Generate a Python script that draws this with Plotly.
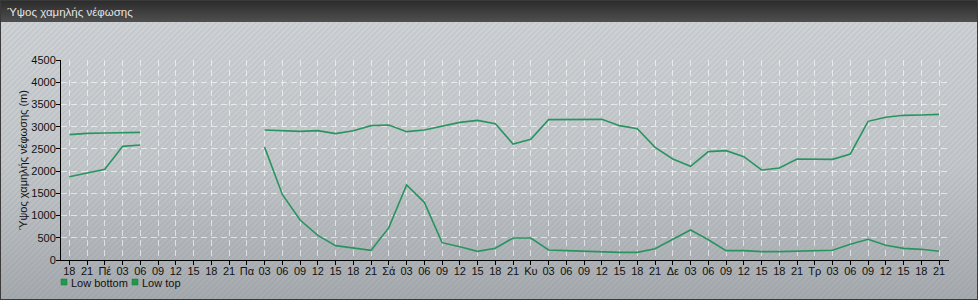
import base64
import plotly.graph_objects as go

TITLE = "Ύψος χαμηλής νέφωσης"
Y_TITLE = "Ύψος χαμηλής νέφωσης (m)"
SERIES_NAMES = ["Low bottom", "Low top"]

TICK_LABELS = ["18", "21",
               "Πέ", "03", "06", "09", "12", "15", "18", "21",
               "Πα", "03", "06", "09", "12", "15", "18", "21",
               "Σά", "03", "06", "09", "12", "15", "18", "21",
               "Κυ", "03", "06", "09", "12", "15", "18", "21",
               "Δε", "03", "06", "09", "12", "15", "18", "21",
               "Τρ", "03", "06", "09", "12", "15", "18", "21"]

LOW_BOTTOM = [1875, 1965, 2040, 2557, 2587,
              None, None, None, None, None, None,
              2540, 1475, 900, 555, 323, 278, 218,
              728, 1688, 1298, 390, 300, 195, 263, 495,
              495, 225, 210, 195, 180, 172, 172, 255,
              465, 675, 455, 210, 210, 188, 188, 195,
              195, 218, 353, 465, 330, 262, 240, 195]

LOW_TOP = [2820, 2850, 2858, 2865, 2872,
           None, None, None, None, None, None,
           2925, 2917, 2895, 2910, 2843, 2910, 3023,
           3038, 2888, 2925, 3007, 3097, 3142, 3068, 2610,
           2715, 3158, 3165, 3172, 3165, 3023, 2955, 2535,
           2272, 2108, 2438, 2460, 2325, 2025, 2070, 2272,
           2272, 2265, 2385, 3120, 3210, 3255, 3262, 3277]

Y_TICKS = [0, 500, 1000, 1500, 2000, 2500, 3000, 3500, 4000, 4500]

X = list(range(len(TICK_LABELS)))

W, H = 978, 300
L, R, T, B = 61, 949, 60, 260
PW, PH = R - L, B - T

LINE_COLOR = "#2a9461"
LEGEND_COLOR = "#1e9a4c"
FONT = "Liberation Sans, Arial, sans-serif"

svg = f"""<svg xmlns='http://www.w3.org/2000/svg' width='{W}' height='{H}'>
<defs>
<linearGradient id='bg' x1='0' y1='0' x2='0' y2='1'>
<stop offset='0' stop-color='#d1d4d7'/><stop offset='0.55' stop-color='#c4c8cb'/><stop offset='1' stop-color='#a6aaae'/>
</linearGradient>
<pattern id='p' width='4' height='4' patternUnits='userSpaceOnUse' patternTransform='rotate(45)'>
<rect width='1.4' height='4' fill='rgba(90,105,125,0.12)'/>
</pattern>
<linearGradient id='tb' x1='0' y1='0' x2='0' y2='1'>
<stop offset='0' stop-color='#2a2a2a'/><stop offset='1' stop-color='#4f4f4f'/>
</linearGradient>
</defs>
<rect width='{W}' height='{H}' fill='url(#bg)'/>
<rect width='{W}' height='{H}' fill='url(#p)'/>
<rect width='{W}' height='22' fill='url(#tb)'/>
<rect x='0.5' y='0.5' width='{W-1}' height='{H-1}' fill='none' stroke='#3a3a3a' stroke-width='1'/>
</svg>"""
src = "data:image/svg+xml;base64," + base64.b64encode(svg.encode("utf-8")).decode("ascii")


def px_x(p):
    return (p - L) / PW


def px_y(p):
    return (B - p) / PH


fig = go.Figure()
for name, vals in zip(SERIES_NAMES, [LOW_BOTTOM, LOW_TOP]):
    fig.add_trace(go.Scatter(x=X, y=vals, mode="lines", name=name,
                             line=dict(color=LINE_COLOR, width=1.6),
                             connectgaps=False, showlegend=False))

fig.add_layout_image(dict(source=src, xref="paper", yref="paper",
                          x=px_x(0), y=px_y(0), sizex=W / PW, sizey=H / PH,
                          xanchor="left", yanchor="top", sizing="stretch",
                          layer="below"))

# title
fig.add_annotation(text=TITLE, xref="paper", yref="paper", x=px_x(5), y=px_y(11.5),
                   xanchor="left", yanchor="middle", showarrow=False,
                   font=dict(family=FONT, size=11.5, color="#e4e4e4"))

# legend (manual)
leg_items = [(61, 70, SERIES_NAMES[0]), (132, 141, SERIES_NAMES[1])]
for sx, tx, name in leg_items:
    fig.add_shape(type="rect", xref="paper", yref="paper",
                  x0=px_x(sx), x1=px_x(sx + 6), y0=px_y(279), y1=px_y(285),
                  fillcolor=LEGEND_COLOR, line=dict(width=0.5, color="#147a3a"))
    fig.add_annotation(text=name, xref="paper", yref="paper", x=px_x(tx - 1), y=px_y(282.5),
                       xanchor="left", yanchor="middle", showarrow=False,
                       font=dict(family=FONT, size=11, color="#111"))

fig.update_layout(
    width=W, height=H,
    margin=dict(l=L, r=W - R, t=T, b=H - B, pad=0),
    paper_bgcolor="#c6cacd",
    plot_bgcolor="rgba(0,0,0,0)",
    font=dict(family=FONT, size=11, color="#111"),
    showlegend=False,
)
fig.update_xaxes(range=[-0.47, 49.56], tickmode="array", tickvals=X, ticktext=TICK_LABELS,
                 showline=True, linecolor="#000", linewidth=1,
                 ticks="outside", ticklen=4, tickcolor="#000", ticklabelstandoff=-3,
                 showgrid=True, gridcolor="rgba(255,255,255,0.6)", griddash="6px,4px", gridwidth=1,
                 zeroline=False, tickangle=0, tickfont=dict(size=11, color="#111"))
fig.update_yaxes(range=[0, 4500], tickmode="array", tickvals=Y_TICKS,
                 showline=True, linecolor="#000", linewidth=1,
                 ticks="outside", ticklen=4, tickcolor="#000", ticklabelstandoff=-2,
                 showgrid=True, gridcolor="rgba(255,255,255,0.6)", griddash="6px,4px", gridwidth=1,
                 zeroline=False, tickfont=dict(size=11, color="#111"),
                 title=dict(text=Y_TITLE, font=dict(size=11, color="#111"), standoff=1))

fig.write_html("out.html")
